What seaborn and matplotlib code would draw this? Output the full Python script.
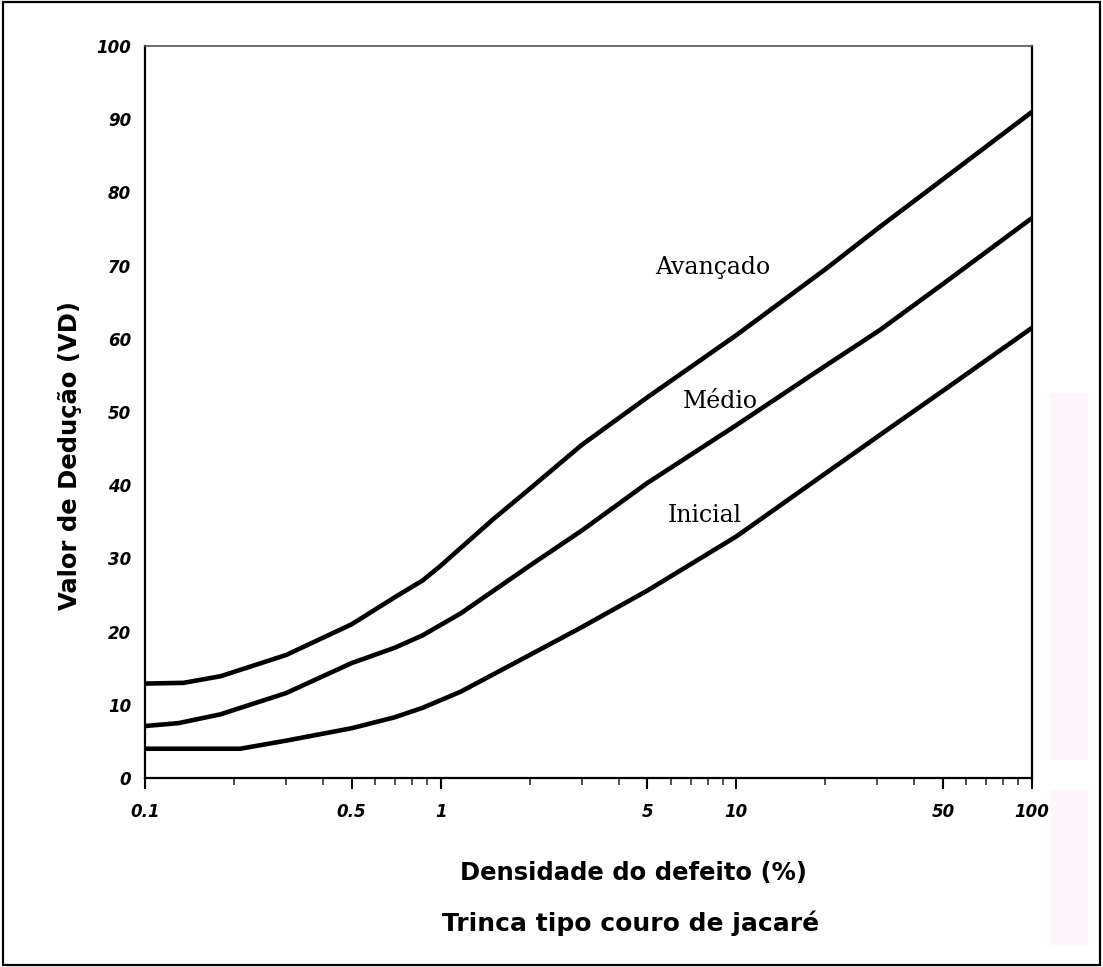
import numpy as np
import pandas as pd
import matplotlib
matplotlib.use("Agg")
import matplotlib.pyplot as plt
import seaborn as sns
from matplotlib.patches import Rectangle
from matplotlib.ticker import FixedLocator, NullFormatter

# ---- data ----
series_names = ["Avançado", "Médio", "Inicial"]

avancado_x = [0.1, 0.135, 0.18, 0.3, 0.5, 0.7, 0.87, 1.0, 1.5, 2.0, 3.0, 5.0, 10.0, 20.0, 30.6, 50.0, 100.0]
avancado_y = [12.9, 13.0, 13.9, 16.8, 21.0, 24.7, 27.0, 29.0, 35.3, 39.5, 45.5, 52.0, 60.5, 69.5, 75.3, 81.8, 91.0]

medio_x = [0.1, 0.13, 0.18, 0.3, 0.5, 0.7, 0.87, 1.17, 2.0, 3.0, 5.0, 10.0, 20.0, 30.6, 50.0, 100.0]
medio_y = [7.1, 7.5, 8.7, 11.6, 15.7, 17.8, 19.5, 22.5, 29.0, 33.8, 40.3, 48.2, 56.3, 61.2, 67.5, 76.5]

inicial_x = [0.1, 0.21, 0.3, 0.5, 0.7, 0.87, 1.17, 2.0, 3.0, 5.0, 10.0, 20.0, 33.0, 50.0, 100.0]
inicial_y = [4.0, 4.0, 5.1, 6.8, 8.3, 9.6, 11.8, 16.8, 20.6, 25.6, 33.0, 41.6, 47.8, 52.9, 61.5]

x_tick_values = [0.1, 0.5, 1, 5, 10, 50, 100]
x_tick_labels = ["0.1", "0.5", "1", "5", "10", "50", "100"]
y_tick_values = [0, 10, 20, 30, 40, 50, 60, 70, 80, 90, 100]

label_pos = {"Avançado": (8.3, 69.7), "Médio": (8.8, 51.4), "Inicial": (7.8, 35.9)}

xlabel = "Densidade do defeito (%)"
ylabel = "Valor de Dedução (VD)"
subtitle = "Trinca tipo couro de jacaré"

# ---- build long-form table ----
frames = []
for name, xs, ys in [("Avançado", avancado_x, avancado_y),
                     ("Médio", medio_x, medio_y),
                     ("Inicial", inicial_x, inicial_y)]:
    frames.append(pd.DataFrame({"x": xs, "y": ys, "serie": name}))
df = pd.concat(frames, ignore_index=True)

sns.set_theme(style="white")
plt.rcParams["font.family"] = ["DejaVu Sans"]

fig = plt.figure(figsize=(11.03, 9.67), dpi=100)
ax = fig.add_axes([145 / 1103, 1 - 778 / 967, (1032 - 145) / 1103, (778 - 46) / 967])

sns.lineplot(data=df, x="x", y="y", hue="serie", hue_order=series_names,
             palette=["black"] * 3, linewidth=3.3, legend=False, ax=ax,
             estimator=None, sort=False)
for ln in ax.lines:
    ln.set_solid_joinstyle("round")
    ln.set_solid_capstyle("butt")

ax.set_xscale("log")
ax.set_xlim(0.1, 100)
ax.set_ylim(0, 100)

ax.xaxis.set_major_locator(FixedLocator(x_tick_values))
minor = [m * 10.0 ** e for e in (-1, 0, 1) for m in (2, 3, 4, 6, 7, 8, 9)]
ax.xaxis.set_minor_locator(FixedLocator(minor))
ax.xaxis.set_minor_formatter(NullFormatter())
ax.set_xticklabels(x_tick_labels, fontsize=12, fontweight="bold", fontstyle="italic")
ax.tick_params(axis="x", which="major", direction="out", length=8, width=1.5,
               pad=10, colors="black", bottom=True)
ax.tick_params(axis="x", which="minor", direction="out", length=5, width=1.2,
               bottom=True, color="#333333")

ax.set_yticks(y_tick_values)
ax.set_yticklabels([str(v) for v in y_tick_values], fontsize=12, fontweight="bold",
                   fontstyle="italic")
ax.tick_params(axis="y", length=0, pad=10, colors="black")

ax.set_xlabel("")
ax.set_ylabel("")

for side in ["left", "bottom", "right"]:
    ax.spines[side].set_visible(True)
    ax.spines[side].set_color("black")
    ax.spines[side].set_linewidth(1.6)
ax.spines["top"].set_color("#555555")
ax.spines["top"].set_linewidth(1.2)
ax.grid(False)

for name, (lx, ly) in label_pos.items():
    ax.text(lx, ly, name, family="DejaVu Serif", fontsize=17, ha="center",
            va="center", color="black")

fig.text(70 / 1103, 1 - 455 / 967, ylabel, rotation=90, ha="center", va="center",
         fontsize=17.5, fontweight="bold", color="black")
fig.text(633 / 1103, 1 - 873 / 967, xlabel, ha="center", va="center",
         fontsize=17.5, fontweight="bold", color="black")
fig.text(631 / 1103, 1 - 923 / 967, subtitle, ha="center", va="center",
         fontsize=18, fontweight="bold", color="black")

# faint right-hand panels and outer frame
fig.patches.append(Rectangle((1050 / 1103, 1 - 760 / 967), 38 / 1103, 367 / 967,
                             transform=fig.transFigure, facecolor="#fdf6fd",
                             edgecolor="none", zorder=0))
fig.patches.append(Rectangle((1050 / 1103, 1 - 945 / 967), 38 / 1103, 155 / 967,
                             transform=fig.transFigure, facecolor="#fdf6fd",
                             edgecolor="none", zorder=0))
fig.patches.append(Rectangle((3 / 1103, 2 / 967), 1097 / 1103, 963 / 967,
                             transform=fig.transFigure, facecolor="none",
                             edgecolor="black", linewidth=1.6, zorder=5))

fig.savefig("out.png", dpi=100)
